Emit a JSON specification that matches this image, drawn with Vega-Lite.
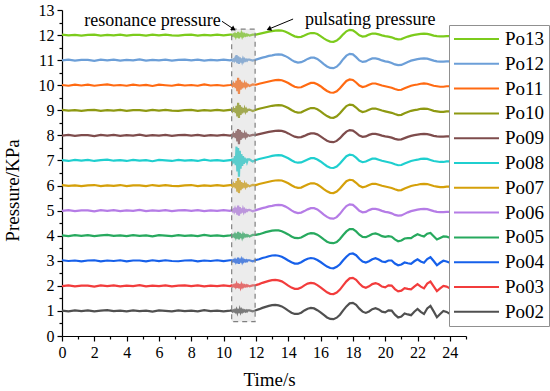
{
"$schema":"https://vega.github.io/schema/vega-lite/v6.json",
"width":404,"height":326,
"autosize":{"type":"none"},
"padding":{"left":62,"top":10,"right":84,"bottom":55},
"background":"white",
"config":{"view":{"stroke":null},"font":"Liberation Serif"},
"datasets":{
"sig":[
{"t":0,"Po02":1.01,"Po03":1.99,"Po04":3.02,"Po05":4.01,"Po06":4.99,"Po07":6.02,"Po08":7.01,"Po09":7.99,"Po10":9.02,"Po11":10.01,"Po12":10.99,"Po13":12.02},
{"t":0.4,"Po02":0.98,"Po03":2.02,"Po04":2.99,"Po05":3.98,"Po06":5.02,"Po07":5.99,"Po08":6.98,"Po09":8.02,"Po10":8.99,"Po11":9.98,"Po12":11.02,"Po13":11.99},
{"t":0.8,"Po02":1.02,"Po03":1.98,"Po04":3.01,"Po05":4.02,"Po06":4.98,"Po07":6.01,"Po08":7.02,"Po09":7.98,"Po10":9.01,"Po11":10.02,"Po12":10.98,"Po13":12.01},
{"t":1.2,"Po02":0.99,"Po03":2.01,"Po04":2.98,"Po05":3.99,"Po06":5.01,"Po07":5.98,"Po08":6.99,"Po09":8.01,"Po10":8.98,"Po11":9.99,"Po12":11.01,"Po13":11.98},
{"t":1.6,"Po02":1.02,"Po03":2.01,"Po04":3.01,"Po05":4.02,"Po06":5.01,"Po07":6.01,"Po08":7.02,"Po09":8.01,"Po10":9.01,"Po11":10.02,"Po12":11.01,"Po13":12.01},
{"t":2,"Po02":0.98,"Po03":1.97,"Po04":3.02,"Po05":3.98,"Po06":4.97,"Po07":6.02,"Po08":6.98,"Po09":7.97,"Po10":9.02,"Po11":9.98,"Po12":10.97,"Po13":12.02},
{"t":2.4,"Po02":1.01,"Po03":2.02,"Po04":2.98,"Po05":4.01,"Po06":5.02,"Po07":5.98,"Po08":7.01,"Po09":8.02,"Po10":8.98,"Po11":10.01,"Po12":11.02,"Po13":11.98},
{"t":2.8,"Po02":1.03,"Po03":1.99,"Po04":3.01,"Po05":4.03,"Po06":4.99,"Po07":6.01,"Po08":7.03,"Po09":7.99,"Po10":9.01,"Po11":10.03,"Po12":10.99,"Po13":12.01},
{"t":3.2,"Po02":0.99,"Po03":2.02,"Po04":2.99,"Po05":3.99,"Po06":5.02,"Po07":5.99,"Po08":6.99,"Po09":8.02,"Po10":8.99,"Po11":9.99,"Po12":11.02,"Po13":11.99},
{"t":3.6,"Po02":1.01,"Po03":1.98,"Po04":3.02,"Po05":4.01,"Po06":4.98,"Po07":6.02,"Po08":7.01,"Po09":7.98,"Po10":9.02,"Po11":10.01,"Po12":10.98,"Po13":12.02},
{"t":4,"Po02":0.98,"Po03":2.01,"Po04":2.98,"Po05":3.98,"Po06":5.01,"Po07":5.98,"Po08":6.98,"Po09":8.01,"Po10":8.98,"Po11":9.98,"Po12":11.01,"Po13":11.98},
{"t":4.4,"Po02":1.02,"Po03":1.99,"Po04":3.01,"Po05":4.02,"Po06":4.99,"Po07":6.01,"Po08":7.02,"Po09":7.99,"Po10":9.01,"Po11":10.02,"Po12":10.99,"Po13":12.01},
{"t":4.8,"Po02":0.99,"Po03":2.03,"Po04":3.01,"Po05":3.99,"Po06":5.03,"Po07":6.01,"Po08":6.99,"Po09":8.03,"Po10":9.01,"Po11":9.99,"Po12":11.03,"Po13":12.01},
{"t":5.2,"Po02":1.01,"Po03":1.98,"Po04":2.98,"Po05":4.01,"Po06":4.98,"Po07":5.98,"Po08":7.01,"Po09":7.98,"Po10":8.98,"Po11":10.01,"Po12":10.98,"Po13":11.98},
{"t":5.6,"Po02":0.97,"Po03":2.01,"Po04":3.02,"Po05":3.97,"Po06":5.01,"Po07":6.02,"Po08":6.97,"Po09":8.01,"Po10":9.02,"Po11":9.97,"Po12":11.01,"Po13":12.02},
{"t":6,"Po02":1.02,"Po03":1.99,"Po04":2.99,"Po05":4.02,"Po06":4.99,"Po07":5.99,"Po08":7.02,"Po09":7.99,"Po10":8.99,"Po11":10.02,"Po12":10.99,"Po13":11.99},
{"t":6.4,"Po02":1,"Po03":2.02,"Po04":3.02,"Po05":4,"Po06":5.02,"Po07":6.02,"Po08":7,"Po09":8.02,"Po10":9.02,"Po11":10,"Po12":11.02,"Po13":12.02},
{"t":6.8,"Po02":0.98,"Po03":1.98,"Po04":2.99,"Po05":3.98,"Po06":4.98,"Po07":5.99,"Po08":6.98,"Po09":7.98,"Po10":8.99,"Po11":9.98,"Po12":10.98,"Po13":11.99},
{"t":7.2,"Po02":1.02,"Po03":2.01,"Po04":2.98,"Po05":4.02,"Po06":5.01,"Po07":5.98,"Po08":7.02,"Po09":8.01,"Po10":8.98,"Po11":10.02,"Po12":11.01,"Po13":11.98},
{"t":7.6,"Po02":0.99,"Po03":2.02,"Po04":3.01,"Po05":3.99,"Po06":5.02,"Po07":6.01,"Po08":6.99,"Po09":8.02,"Po10":9.01,"Po11":9.99,"Po12":11.02,"Po13":12.01},
{"t":8,"Po02":1.01,"Po03":1.99,"Po04":3.02,"Po05":4.01,"Po06":4.99,"Po07":6.02,"Po08":7.01,"Po09":7.99,"Po10":9.02,"Po11":10.01,"Po12":10.99,"Po13":12.02},
{"t":8.4,"Po02":0.98,"Po03":2.02,"Po04":2.98,"Po05":3.98,"Po06":5.02,"Po07":5.98,"Po08":6.98,"Po09":8.02,"Po10":8.98,"Po11":9.98,"Po12":11.02,"Po13":11.98},
{"t":8.8,"Po02":1.03,"Po03":1.98,"Po04":3.01,"Po05":4.03,"Po06":4.98,"Po07":6.01,"Po08":7.03,"Po09":7.98,"Po10":9.01,"Po11":10.03,"Po12":10.98,"Po13":12.01},
{"t":9.2,"Po02":0.99,"Po03":2.01,"Po04":2.99,"Po05":3.99,"Po06":5.01,"Po07":5.99,"Po08":6.99,"Po09":8.01,"Po10":8.99,"Po11":9.99,"Po12":11.01,"Po13":11.99},
{"t":9.6,"Po02":1.01,"Po03":1.99,"Po04":3.02,"Po05":4.01,"Po06":4.99,"Po07":6.02,"Po08":7.01,"Po09":7.99,"Po10":9.02,"Po11":10.01,"Po12":10.99,"Po13":12.02},
{"t":10,"Po02":0.98,"Po03":2.02,"Po04":2.99,"Po05":3.98,"Po06":5.02,"Po07":5.99,"Po08":6.98,"Po09":8.02,"Po10":8.99,"Po11":9.98,"Po12":11.02,"Po13":11.99},
{"t":10.4,"Po02":1.01,"Po03":1.99,"Po04":3.02,"Po05":4.01,"Po06":4.99,"Po07":6.02,"Po08":7.01,"Po09":7.99,"Po10":9.02,"Po11":10.01,"Po12":10.99,"Po13":12.02},
{"t":10.5,"Po02":1.02,"Po03":2.02,"Po04":3.02,"Po05":4.02,"Po06":5.02,"Po07":6.02,"Po08":7.03,"Po09":8.02,"Po10":9.02,"Po11":10.02,"Po12":11.02,"Po13":12.02},
{"t":10.55,"Po02":0.98,"Po03":1.98,"Po04":2.98,"Po05":3.98,"Po06":4.98,"Po07":5.97,"Po08":6.94,"Po09":7.97,"Po10":8.97,"Po11":9.97,"Po12":10.98,"Po13":11.98},
{"t":10.6,"Po02":1.02,"Po03":2.02,"Po04":3.02,"Po05":4.02,"Po06":5.03,"Po07":6.05,"Po08":7.08,"Po09":8.05,"Po10":9.05,"Po11":10.05,"Po12":11.02,"Po13":12.02},
{"t":10.65,"Po02":0.98,"Po03":1.98,"Po04":2.98,"Po05":3.97,"Po06":4.96,"Po07":5.94,"Po08":6.89,"Po09":7.94,"Po10":8.94,"Po11":9.94,"Po12":10.97,"Po13":11.97},
{"t":10.7,"Po02":1.03,"Po03":2.03,"Po04":3.04,"Po05":4.05,"Po06":5.06,"Po07":6.09,"Po08":7.17,"Po09":8.09,"Po10":9.09,"Po11":10.09,"Po12":11.05,"Po13":12.04},
{"t":10.75,"Po02":0.97,"Po03":1.96,"Po04":2.96,"Po05":3.95,"Po06":4.93,"Po07":5.89,"Po08":6.81,"Po09":7.89,"Po10":8.89,"Po11":9.89,"Po12":10.95,"Po13":11.95},
{"t":10.8,"Po02":1.05,"Po03":2.06,"Po04":3.07,"Po05":4.09,"Po06":5.12,"Po07":6.18,"Po08":7.55,"Po09":8.18,"Po10":9.18,"Po11":10.18,"Po12":11.2,"Po13":12.08},
{"t":10.85,"Po02":0.94,"Po03":1.92,"Po04":2.9,"Po05":3.88,"Po06":4.84,"Po07":5.76,"Po08":6.56,"Po09":7.76,"Po10":8.76,"Po11":9.76,"Po12":10.88,"Po13":11.9},
{"t":10.9,"Po02":1.08,"Po03":2.1,"Po04":3.12,"Po05":4.15,"Po06":5.2,"Po07":6.3,"Po08":7.5,"Po09":8.25,"Po10":9.3,"Po11":10.3,"Po12":11.15,"Po13":12.13},
{"t":10.95,"Po02":0.92,"Po03":1.9,"Po04":2.88,"Po05":3.85,"Po06":4.8,"Po07":5.7,"Po08":6.35,"Po09":7.65,"Po10":8.7,"Po11":9.65,"Po12":10.85,"Po13":11.87},
{"t":11,"Po02":1.06,"Po03":2.07,"Po04":3.08,"Po05":4.11,"Po06":5.14,"Po07":6.21,"Po08":7.39,"Po09":8.21,"Po10":9.21,"Po11":10.21,"Po12":11.11,"Po13":12.09},
{"t":11.05,"Po02":0.95,"Po03":1.94,"Po04":2.93,"Po05":3.91,"Po06":4.88,"Po07":5.82,"Po08":6.67,"Po09":7.82,"Po10":8.82,"Po11":9.82,"Po12":10.91,"Po13":11.92},
{"t":11.1,"Po02":1.04,"Po03":2.05,"Po04":3.05,"Po05":4.07,"Po06":5.09,"Po07":6.14,"Po08":7.25,"Po09":8.14,"Po10":9.14,"Po11":10.14,"Po12":11.07,"Po13":12.06},
{"t":11.15,"Po02":0.97,"Po03":1.96,"Po04":2.95,"Po05":3.94,"Po06":4.92,"Po07":5.88,"Po08":6.78,"Po09":7.88,"Po10":8.88,"Po11":9.88,"Po12":10.94,"Po13":11.95},
{"t":11.2,"Po02":1.03,"Po03":2.03,"Po04":3.04,"Po05":4.05,"Po06":5.06,"Po07":6.09,"Po08":7.17,"Po09":8.09,"Po10":9.09,"Po11":10.09,"Po12":11.05,"Po13":12.04},
{"t":11.25,"Po02":0.98,"Po03":1.97,"Po04":2.97,"Po05":3.96,"Po06":4.95,"Po07":5.92,"Po08":6.86,"Po09":7.92,"Po10":8.92,"Po11":9.92,"Po12":10.96,"Po13":11.97},
{"t":11.3,"Po02":1.02,"Po03":2.02,"Po04":3.02,"Po05":4.03,"Po06":5.04,"Po07":6.06,"Po08":7.11,"Po09":8.06,"Po10":9.06,"Po11":10.06,"Po12":11.03,"Po13":12.03},
{"t":11.35,"Po02":0.98,"Po03":1.98,"Po04":2.98,"Po05":3.98,"Po06":4.97,"Po07":5.95,"Po08":6.92,"Po09":7.95,"Po10":8.95,"Po11":9.95,"Po12":10.98,"Po13":11.98},
{"t":11.4,"Po02":1.02,"Po03":2.02,"Po04":3.02,"Po05":4.02,"Po06":5.02,"Po07":6.04,"Po08":7.07,"Po09":8.04,"Po10":9.04,"Po11":10.04,"Po12":11.02,"Po13":12.02},
{"t":11.45,"Po02":0.98,"Po03":1.98,"Po04":2.98,"Po05":3.98,"Po06":4.98,"Po07":5.97,"Po08":6.94,"Po09":7.97,"Po10":8.97,"Po11":9.97,"Po12":10.98,"Po13":11.98},
{"t":11.5,"Po02":1.02,"Po03":2.02,"Po04":3.02,"Po05":4.02,"Po06":5.02,"Po07":6.02,"Po08":7.04,"Po09":8.02,"Po10":9.02,"Po11":10.02,"Po12":11.02,"Po13":12.02},
{"t":11.6,"Po02":1.02,"Po03":1.98,"Po04":3.02,"Po05":3.97,"Po06":5.03,"Po07":5.97,"Po08":7.04,"Po09":7.98,"Po10":9.03,"Po11":9.97,"Po12":11.02,"Po13":11.98},
{"t":11.8,"Po02":0.98,"Po03":2.02,"Po04":2.98,"Po05":4.03,"Po06":4.97,"Po07":6.03,"Po08":6.96,"Po09":8.02,"Po10":8.97,"Po11":10.03,"Po12":10.98,"Po13":12.02},
{"t":12,"Po02":1.03,"Po03":2.03,"Po04":3.03,"Po05":4.03,"Po06":5.02,"Po07":6.02,"Po08":7.02,"Po09":8.02,"Po10":9.02,"Po11":10.02,"Po12":11.02,"Po13":12.02},
{"t":12.2,"Po02":1.07,"Po03":2.07,"Po04":3.06,"Po05":4.06,"Po06":5.06,"Po07":6.06,"Po08":7.06,"Po09":8.05,"Po10":9.06,"Po11":10.06,"Po12":11.06,"Po13":12.05},
{"t":12.4,"Po02":1.12,"Po03":2.12,"Po04":3.11,"Po05":4.1,"Po06":5.1,"Po07":6.09,"Po08":7.09,"Po09":8.08,"Po10":9.09,"Po11":10.09,"Po12":11.1,"Po13":12.08},
{"t":12.6,"Po02":1.16,"Po03":2.16,"Po04":3.14,"Po05":4.14,"Po06":5.13,"Po07":6.12,"Po08":7.12,"Po09":8.11,"Po10":9.12,"Po11":10.12,"Po12":11.13,"Po13":12.11},
{"t":12.8,"Po02":1.2,"Po03":2.2,"Po04":3.18,"Po05":4.17,"Po06":5.17,"Po07":6.15,"Po08":7.15,"Po09":8.14,"Po10":9.15,"Po11":10.15,"Po12":11.17,"Po13":12.14},
{"t":13,"Po02":1.23,"Po03":2.23,"Po04":3.21,"Po05":4.2,"Po06":5.19,"Po07":6.18,"Po08":7.18,"Po09":8.16,"Po10":9.18,"Po11":10.18,"Po12":11.19,"Po13":12.16},
{"t":13.2,"Po02":1.24,"Po03":2.24,"Po04":3.22,"Po05":4.21,"Po06":5.22,"Po07":6.2,"Po08":7.2,"Po09":8.18,"Po10":9.2,"Po11":10.2,"Po12":11.22,"Po13":12.18},
{"t":13.4,"Po02":1.22,"Po03":2.22,"Po04":3.2,"Po05":4.21,"Po06":5.23,"Po07":6.21,"Po08":7.21,"Po09":8.19,"Po10":9.21,"Po11":10.21,"Po12":11.23,"Po13":12.19},
{"t":13.6,"Po02":1.18,"Po03":2.18,"Po04":3.16,"Po05":4.18,"Po06":5.22,"Po07":6.2,"Po08":7.2,"Po09":8.18,"Po10":9.2,"Po11":10.2,"Po12":11.22,"Po13":12.18},
{"t":13.8,"Po02":1.1,"Po03":2.1,"Po04":3.09,"Po05":4.12,"Po06":5.17,"Po07":6.15,"Po08":7.15,"Po09":8.14,"Po10":9.15,"Po11":10.15,"Po12":11.17,"Po13":12.14},
{"t":14,"Po02":1.01,"Po03":2.01,"Po04":3.01,"Po05":4.05,"Po06":5.1,"Po07":6.09,"Po08":7.09,"Po09":8.08,"Po10":9.09,"Po11":10.09,"Po12":11.1,"Po13":12.08},
{"t":14.2,"Po02":0.93,"Po03":1.93,"Po04":2.94,"Po05":3.97,"Po06":5.01,"Po07":6.01,"Po08":7.01,"Po09":8.01,"Po10":9.01,"Po11":10.01,"Po12":11.01,"Po13":12.01},
{"t":14.4,"Po02":0.88,"Po03":1.88,"Po04":2.89,"Po05":3.91,"Po06":4.94,"Po07":5.94,"Po08":6.94,"Po09":7.95,"Po10":8.94,"Po11":9.94,"Po12":10.94,"Po13":11.95},
{"t":14.6,"Po02":0.88,"Po03":1.88,"Po04":2.89,"Po05":3.9,"Po06":4.9,"Po07":5.91,"Po08":6.91,"Po09":7.92,"Po10":8.91,"Po11":9.91,"Po12":10.9,"Po13":11.92},
{"t":14.8,"Po02":0.93,"Po03":1.93,"Po04":2.94,"Po05":3.93,"Po06":4.92,"Po07":5.92,"Po08":6.92,"Po09":7.93,"Po10":8.92,"Po11":9.92,"Po12":10.92,"Po13":11.93},
{"t":15,"Po02":1.02,"Po03":2.02,"Po04":3.02,"Po05":4,"Po06":4.98,"Po07":5.98,"Po08":6.98,"Po09":7.98,"Po10":8.98,"Po11":9.98,"Po12":10.98,"Po13":11.98},
{"t":15.2,"Po02":1.09,"Po03":2.09,"Po04":3.08,"Po05":4.07,"Po06":5.05,"Po07":6.04,"Po08":7.04,"Po09":8.04,"Po10":9.04,"Po11":10.04,"Po12":11.05,"Po13":12.04},
{"t":15.4,"Po02":1.12,"Po03":2.12,"Po04":3.11,"Po05":4.1,"Po06":5.1,"Po07":6.09,"Po08":7.09,"Po09":8.08,"Po10":9.09,"Po11":10.09,"Po12":11.1,"Po13":12.08},
{"t":15.6,"Po02":1.1,"Po03":2.1,"Po04":3.09,"Po05":4.09,"Po06":5.1,"Po07":6.09,"Po08":7.09,"Po09":8.08,"Po10":9.09,"Po11":10.09,"Po12":11.1,"Po13":12.08},
{"t":15.8,"Po02":1.03,"Po03":2.03,"Po04":3.03,"Po05":4.04,"Po06":5.05,"Po07":6.04,"Po08":7.04,"Po09":8.04,"Po10":9.04,"Po11":10.04,"Po12":11.05,"Po13":12.04},
{"t":16,"Po02":0.94,"Po03":1.94,"Po04":2.95,"Po05":3.95,"Po06":4.95,"Po07":5.96,"Po08":6.96,"Po09":7.96,"Po10":8.96,"Po11":9.96,"Po12":10.95,"Po13":11.96},
{"t":16.2,"Po02":0.84,"Po03":1.84,"Po04":2.86,"Po05":3.85,"Po06":4.84,"Po07":5.86,"Po08":6.86,"Po09":7.87,"Po10":8.86,"Po11":9.86,"Po12":10.84,"Po13":11.87},
{"t":16.4,"Po02":0.74,"Po03":1.74,"Po04":2.77,"Po05":3.76,"Po06":4.75,"Po07":5.77,"Po08":6.77,"Po09":7.79,"Po10":8.77,"Po11":9.77,"Po12":10.75,"Po13":11.79},
{"t":16.6,"Po02":0.68,"Po03":1.68,"Po04":2.71,"Po05":3.71,"Po06":4.69,"Po07":5.71,"Po08":6.71,"Po09":7.74,"Po10":8.71,"Po11":9.71,"Po12":10.69,"Po13":11.74},
{"t":16.8,"Po02":0.67,"Po03":1.67,"Po04":2.7,"Po05":3.7,"Po06":4.68,"Po07":5.7,"Po08":6.7,"Po09":7.73,"Po10":8.7,"Po11":9.7,"Po12":10.68,"Po13":11.73},
{"t":17,"Po02":0.73,"Po03":1.73,"Po04":2.76,"Po05":3.75,"Po06":4.74,"Po07":5.76,"Po08":6.76,"Po09":7.78,"Po10":8.76,"Po11":9.76,"Po12":10.74,"Po13":11.78},
{"t":17.2,"Po02":0.85,"Po03":1.85,"Po04":2.86,"Po05":3.87,"Po06":4.87,"Po07":5.88,"Po08":6.88,"Po09":7.89,"Po10":8.88,"Po11":9.88,"Po12":10.87,"Po13":11.89},
{"t":17.4,"Po02":1.02,"Po03":2.02,"Po04":3.02,"Po05":4.03,"Po06":5.04,"Po07":6.03,"Po08":7.03,"Po09":8.03,"Po10":9.03,"Po11":10.03,"Po12":11.04,"Po13":12.03},
{"t":17.6,"Po02":1.18,"Po03":2.18,"Po04":3.16,"Po05":4.17,"Po06":5.18,"Po07":6.17,"Po08":7.17,"Po09":8.15,"Po10":9.17,"Po11":10.17,"Po12":11.18,"Po13":12.15},
{"t":17.8,"Po02":1.3,"Po03":2.3,"Po04":3.27,"Po05":4.26,"Po06":5.25,"Po07":6.23,"Po08":7.23,"Po09":8.21,"Po10":9.23,"Po11":10.23,"Po12":11.25,"Po13":12.21},
{"t":18,"Po02":1.32,"Po03":2.32,"Po04":3.29,"Po05":4.26,"Po06":5.23,"Po07":6.21,"Po08":7.21,"Po09":8.19,"Po10":9.21,"Po11":10.21,"Po12":11.23,"Po13":12.19},
{"t":18.2,"Po02":1.24,"Po03":2.24,"Po04":3.22,"Po05":4.17,"Po06":5.12,"Po07":6.11,"Po08":7.11,"Po09":8.1,"Po10":9.11,"Po11":10.11,"Po12":11.12,"Po13":12.1},
{"t":18.4,"Po02":1.09,"Po03":2.09,"Po04":3.08,"Po05":4.04,"Po06":4.99,"Po07":5.99,"Po08":6.99,"Po09":7.99,"Po10":8.99,"Po11":9.99,"Po12":10.99,"Po13":11.99},
{"t":18.6,"Po02":0.97,"Po03":1.97,"Po04":2.97,"Po05":3.95,"Po06":4.93,"Po07":5.93,"Po08":6.93,"Po09":7.94,"Po10":8.93,"Po11":9.93,"Po12":10.93,"Po13":11.94},
{"t":18.8,"Po02":0.92,"Po03":1.92,"Po04":2.93,"Po05":3.94,"Po06":4.95,"Po07":5.96,"Po08":6.96,"Po09":7.96,"Po10":8.96,"Po11":9.96,"Po12":10.95,"Po13":11.96},
{"t":19,"Po02":0.98,"Po03":1.98,"Po04":2.98,"Po05":4,"Po06":5.02,"Po07":6.02,"Po08":7.02,"Po09":8.02,"Po10":9.02,"Po11":10.02,"Po12":11.02,"Po13":12.02},
{"t":19.2,"Po02":1.07,"Po03":2.07,"Po04":3.06,"Po05":4.07,"Po06":5.07,"Po07":6.07,"Po08":7.07,"Po09":8.06,"Po10":9.07,"Po11":10.07,"Po12":11.07,"Po13":12.06},
{"t":19.4,"Po02":1.11,"Po03":2.11,"Po04":3.1,"Po05":4.09,"Po06":5.07,"Po07":6.07,"Po08":7.07,"Po09":8.06,"Po10":9.07,"Po11":10.07,"Po12":11.07,"Po13":12.06},
{"t":19.6,"Po02":1.06,"Po03":2.06,"Po04":3.05,"Po05":4.05,"Po06":5.04,"Po07":6.03,"Po08":7.03,"Po09":8.03,"Po10":9.03,"Po11":10.03,"Po12":11.04,"Po13":12.03},
{"t":19.8,"Po02":0.97,"Po03":1.97,"Po04":2.97,"Po05":3.98,"Po06":4.99,"Po07":5.99,"Po08":6.99,"Po09":7.99,"Po10":8.99,"Po11":9.99,"Po12":10.99,"Po13":11.99},
{"t":20,"Po02":0.94,"Po03":1.94,"Po04":2.95,"Po05":3.95,"Po06":4.95,"Po07":5.96,"Po08":6.96,"Po09":7.96,"Po10":8.96,"Po11":9.96,"Po12":10.95,"Po13":11.96},
{"t":20.2,"Po02":1.02,"Po03":2.02,"Po04":3.01,"Po05":3.98,"Po06":4.93,"Po07":5.93,"Po08":6.93,"Po09":7.94,"Po10":8.93,"Po11":9.93,"Po12":10.93,"Po13":11.94},
{"t":20.4,"Po02":1.01,"Po03":2.01,"Po04":3.01,"Po05":3.96,"Po06":4.89,"Po07":5.9,"Po08":6.9,"Po09":7.91,"Po10":8.9,"Po11":9.9,"Po12":10.89,"Po13":11.91},
{"t":20.6,"Po02":0.85,"Po03":1.87,"Po04":2.89,"Po05":3.85,"Po06":4.83,"Po07":5.85,"Po08":6.85,"Po09":7.86,"Po10":8.85,"Po11":9.85,"Po12":10.83,"Po13":11.86},
{"t":20.8,"Po02":0.74,"Po03":1.78,"Po04":2.82,"Po05":3.78,"Po06":4.8,"Po07":5.81,"Po08":6.81,"Po09":7.83,"Po10":8.81,"Po11":9.81,"Po12":10.8,"Po13":11.83},
{"t":21,"Po02":0.78,"Po03":1.81,"Po04":2.85,"Po05":3.81,"Po06":4.81,"Po07":5.82,"Po08":6.82,"Po09":7.84,"Po10":8.82,"Po11":9.82,"Po12":10.81,"Po13":11.84},
{"t":21.2,"Po02":0.9,"Po03":1.91,"Po04":2.93,"Po05":3.89,"Po06":4.87,"Po07":5.88,"Po08":6.88,"Po09":7.89,"Po10":8.88,"Po11":9.88,"Po12":10.87,"Po13":11.89},
{"t":21.4,"Po02":0.86,"Po03":1.88,"Po04":2.9,"Po05":3.9,"Po06":4.93,"Po07":5.93,"Po08":6.93,"Po09":7.94,"Po10":8.93,"Po11":9.93,"Po12":10.93,"Po13":11.94},
{"t":21.6,"Po02":0.83,"Po03":1.86,"Po04":2.88,"Po05":3.9,"Po06":4.98,"Po07":5.98,"Po08":6.98,"Po09":7.98,"Po10":8.98,"Po11":9.98,"Po12":10.98,"Po13":11.98},
{"t":21.8,"Po02":0.97,"Po03":1.97,"Po04":2.98,"Po05":3.99,"Po06":5.01,"Po07":6.01,"Po08":7.01,"Po09":8.01,"Po10":9.01,"Po11":10.01,"Po12":11.01,"Po13":12.01},
{"t":22,"Po02":1.08,"Po03":2.07,"Po04":3.06,"Po05":4.06,"Po06":5.04,"Po07":6.03,"Po08":7.03,"Po09":8.03,"Po10":9.03,"Po11":10.03,"Po12":11.04,"Po13":12.03},
{"t":22.2,"Po02":0.96,"Po03":1.97,"Po04":2.97,"Po05":4.01,"Po06":5.06,"Po07":6.06,"Po08":7.06,"Po09":8.05,"Po10":9.06,"Po11":10.06,"Po12":11.06,"Po13":12.05},
{"t":22.4,"Po02":0.88,"Po03":1.9,"Po04":2.92,"Po05":3.97,"Po06":5.07,"Po07":6.07,"Po08":7.07,"Po09":8.06,"Po10":9.07,"Po11":10.07,"Po12":11.07,"Po13":12.06},
{"t":22.6,"Po02":1.1,"Po03":2.09,"Po04":3.07,"Po05":4.08,"Po06":5.06,"Po07":6.06,"Po08":7.06,"Po09":8.05,"Po10":9.06,"Po11":10.06,"Po12":11.06,"Po13":12.05},
{"t":22.8,"Po02":1.2,"Po03":2.17,"Po04":3.14,"Po05":4.11,"Po06":5.02,"Po07":6.02,"Po08":7.02,"Po09":8.02,"Po10":9.02,"Po11":10.02,"Po12":11.02,"Po13":12.02},
{"t":23,"Po02":0.98,"Po03":1.98,"Po04":2.99,"Po05":3.98,"Po06":4.98,"Po07":5.98,"Po08":6.98,"Po09":7.98,"Po10":8.98,"Po11":9.98,"Po12":10.98,"Po13":11.98},
{"t":23.2,"Po02":0.75,"Po03":1.79,"Po04":2.82,"Po05":3.85,"Po06":4.95,"Po07":5.96,"Po08":6.96,"Po09":7.96,"Po10":8.96,"Po11":9.96,"Po12":10.95,"Po13":11.96},
{"t":23.4,"Po02":0.88,"Po03":1.9,"Po04":2.92,"Po05":3.91,"Po06":4.94,"Po07":5.94,"Po08":6.94,"Po09":7.95,"Po10":8.94,"Po11":9.94,"Po12":10.94,"Po13":11.95},
{"t":23.6,"Po02":1,"Po03":2,"Po04":3,"Po05":3.97,"Po06":4.94,"Po07":5.94,"Po08":6.94,"Po09":7.95,"Po10":8.94,"Po11":9.94,"Po12":10.94,"Po13":11.95},
{"t":23.8,"Po02":0.96,"Po03":1.97,"Po04":2.97,"Po05":3.96,"Po06":4.95,"Po07":5.96,"Po08":6.96,"Po09":7.96,"Po10":8.96,"Po11":9.96,"Po12":10.95,"Po13":11.96},
{"t":24,"Po02":0.88,"Po03":1.9,"Po04":2.92,"Po05":3.92,"Po06":4.95,"Po07":5.96,"Po08":6.96,"Po09":7.96,"Po10":8.96,"Po11":9.96,"Po12":10.95,"Po13":11.96}
]
},
"encoding":{
"x":{"field":"t","type":"quantitative","scale":{"domain":[0,25],"nice":false,"zero":false},
"axis":{"title":"Time/s","values":[0,1,2,3,4,5,6,7,8,9,10,11,12,13,14,15,16,17,18,19,20,21,22,23,24,25],
"labelExpr":"(datum.value % 2 === 0 && datum.value <= 24) ? format(datum.value, 'd') : ''",
"tickSize":{"condition":{"test":"datum.value % 2 !== 0","value":3},"value":5},
"grid":false,"domainColor":"black","tickColor":"black","domainWidth":1.2,"tickWidth":1.2,
"labelFont":"Liberation Serif","labelFontSize":16,"labelColor":"black","labelPadding":3,"labelOverlap":false,"labelFlush":false,
"titleFont":"Liberation Serif","titleFontSize":19,"titleFontWeight":"normal","titleColor":"black","titleX":207,"titleY":49,"titleBaseline":"alphabetic","titleAlign":"center"}},
"y":{"field":"value","type":"quantitative","scale":{"domain":[0,13],"nice":false,"zero":false},
"axis":{"title":"Pressure/KPa","values":[0,0.5,1,1.5,2,2.5,3,3.5,4,4.5,5,5.5,6,6.5,7,7.5,8,8.5,9,9.5,10,10.5,11,11.5,12,12.5,13],
"labelExpr":"datum.value % 1 === 0 ? format(datum.value, 'd') : ''",
"tickSize":{"condition":{"test":"datum.value % 1 !== 0","value":3},"value":5},
"grid":false,"domainColor":"black","tickColor":"black","domainWidth":1.2,"tickWidth":1.2,
"labelFont":"Liberation Serif","labelFontSize":16,"labelColor":"black","labelPadding":3,"labelOverlap":false,"labelFlush":false,
"titleFont":"Liberation Serif","titleFontSize":19,"titleFontWeight":"normal","titleColor":"black","titleX":-44,"titleY":180,"titleBaseline":"alphabetic","titleAlign":"center","titleAngle":-90}}
},
"layer":[
{
"data":{"name":"sig"},
"transform":[{"fold":["Po02","Po03","Po04","Po05","Po06","Po07","Po08","Po09","Po10","Po11","Po12","Po13"],"as":["series","value"]}],
"mark":{"type":"line","strokeWidth":2.2},
"encoding":{
"color":{"field":"series","type":"nominal",
"scale":{"domain":["Po13","Po12","Po11","Po10","Po09","Po08","Po07","Po06","Po05","Po04","Po03","Po02"],
"range":["#7ccb1c","#6c9fd8","#ff6a12","#8e9912","#7e4c4c","#1fcfcf","#d5a00a","#b57ce6","#27a95e","#1660ea","#f23c3c","#505050"]},
"legend":{"orient":"none","legendX":387,"legendY":15,"title":null,"symbolType":"stroke","symbolSize":2025,"symbolStrokeWidth":2,"clipHeight":20,"rowPadding":4.8,
"labelFont":"Liberation Serif","labelFontSize":19,"labelColor":"black","labelOffset":5,"padding":4,"strokeColor":"#909090","fillColor":"white","labelLimit":200}}
}
},
{
"data":{"values":[{"t":10.5,"t2":11.95,"value":0.57,"value2":12.24}]},
"mark":{"type":"rect","fill":"#c8c8c8","fillOpacity":0.35,"stroke":"#808080","strokeWidth":1.2,"strokeDash":[5,4]},
"encoding":{"x2":{"field":"t2"},"y2":{"field":"value2"}}
},
{
"data":{"values":[{"t":9.9,"t2":10.62,"value":12.55,"value2":12.24},{"t":14.3,"t2":12.8,"value":12.64,"value2":12.24}]},
"mark":{"type":"rule","color":"black","strokeWidth":1},
"encoding":{"x2":{"field":"t2"},"y2":{"field":"value2"}}
},
{
"data":{"values":[{"t":10.62,"value":12.24}]},
"mark":{"type":"point","shape":"triangle-right","angle":34,"filled":true,"color":"black","size":30,"opacity":1}
},
{
"data":{"values":[{"t":12.8,"value":12.24}]},
"mark":{"type":"point","shape":"triangle-left","angle":-23,"filled":true,"color":"black","size":30,"opacity":1}
},
{
"data":{"values":[{"t":5.6,"value":12.36,"label":"resonance pressure"},{"t":19.07,"value":12.4,"label":"pulsating pressure"}]},
"mark":{"type":"text","font":"Liberation Serif","fontSize":18,"color":"black","align":"center","baseline":"alphabetic"},
"encoding":{"text":{"field":"label"}}
}
]
}
